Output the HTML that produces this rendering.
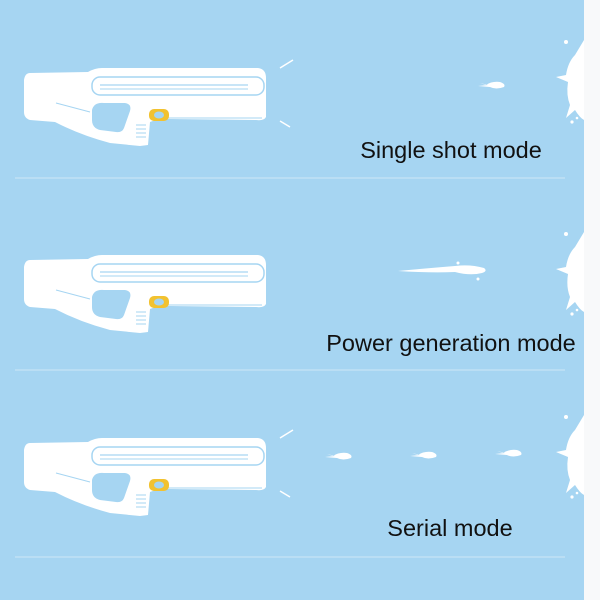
<!DOCTYPE html>
<html><head><meta charset="utf-8"><style>
html,body{margin:0;padding:0;background:#f8f9fa}
svg{display:block}
text{font-family:"Liberation Sans","DejaVu Sans",sans-serif;font-size:23.5px;fill:#111}
</style></head><body>
<svg width="600" height="600" viewBox="0 0 600 600" xmlns="http://www.w3.org/2000/svg">
<defs>
<g id="gun">
  <path d="M30,73 L88,72 Q95,68 102,68 L258,68 Q266,69 266,78 L266,117 Q264,121 256,120 L170,119 Q160,118 150,122 L148,145 L140,146 L110,143 Q80,135 55,122 L30,120 Q24,118 24,112 L24,80 Q25,73 30,73 Z" fill="#fff"/>
  <path d="M92,110 Q94,102 104,103 L125,103 Q132,104 130,111 L124,128 Q122,133 116,132 L100,130 Q92,128 92,120 Z" fill="#a6d5f2"/>
  <rect x="92" y="77" width="172" height="18" rx="8" fill="none" stroke="#a6d5f2" stroke-width="1.5"/>
  <line x1="100" y1="85" x2="248" y2="85" stroke="#a6d5f2" stroke-width="1.2"/>
  <line x1="100" y1="89" x2="248" y2="89" stroke="#a6d5f2" stroke-width="1"/>
  <line x1="56" y1="103" x2="90" y2="112" stroke="#a6d5f2" stroke-width="1"/>
  <line x1="165" y1="118" x2="262" y2="118" stroke="#a6d5f2" stroke-width="1"/>
  <g stroke="#a6d5f2" stroke-width="1"><line x1="136" y1="125" x2="146" y2="125"/><line x1="136" y1="129" x2="146" y2="129"/><line x1="136" y1="133" x2="146" y2="133"/><line x1="136" y1="137" x2="146" y2="137"/></g>
  <rect x="149" y="109" width="20" height="12" rx="5" fill="#f2c230"/>
  <ellipse cx="159" cy="115" rx="5" ry="3.5" fill="#a6d5f2"/>
</g>
<g id="splash" fill="#fff">
  <path d="M584,40 L575,55 Q568,62 566,75 L556,77 L568,82 Q566,95 570,105 L566,118 L575,110 Q580,118 584,120 Z"/>
  <circle cx="566" cy="42" r="2"/><circle cx="572" cy="122" r="1.6"/><circle cx="577" cy="118" r="1.3"/>
</g>
<g id="drop" fill="#fff"><path d="M0,0 Q6,-4 14,-3 Q20,-1 18,2 Q10,5 4,2 L-8,1 L2,0 L-6,-2 Z"/></g>
</defs>
<rect x="0" y="0" width="584" height="600" fill="#a6d5f2"/>
<g stroke="#cfe7f7" stroke-width="1"><line x1="15" y1="178" x2="565" y2="178"/><line x1="15" y1="370" x2="565" y2="370"/><line x1="15" y1="557" x2="565" y2="557"/></g>
<use href="#gun"/>
<use href="#gun" transform="translate(0,187)"/>
<use href="#gun" transform="translate(0,370)"/>
<g stroke="#fff" stroke-width="1.5" fill="none">
<path d="M280,68 L293,60"/><path d="M280,121 L290,127"/>
<path d="M280,438 L293,430"/><path d="M280,491 L290,497"/>
</g>
<use href="#splash"/>
<use href="#splash" transform="translate(0,192)"/>
<use href="#splash" transform="translate(0,375)"/>
<use href="#drop" transform="translate(486,85)"/>
<path d="M398,271 Q430,268 455,266 Q470,264 484,268 Q488,271 482,273 Q470,276 455,272 Q430,273 398,271 Z" fill="#fff"/>
<circle cx="458" cy="263" r="1.5" fill="#fff"/><circle cx="478" cy="279" r="1.5" fill="#fff"/>
<use href="#drop" transform="translate(333,456)"/>
<use href="#drop" transform="translate(418,455)"/>
<use href="#drop" transform="translate(503,453)"/>
<text x="451" y="158" text-anchor="middle">Single shot mode</text>
<text x="451" y="351" text-anchor="middle">Power generation mode</text>
<text x="450" y="536" text-anchor="middle">Serial mode</text>
</svg>
</body></html>
